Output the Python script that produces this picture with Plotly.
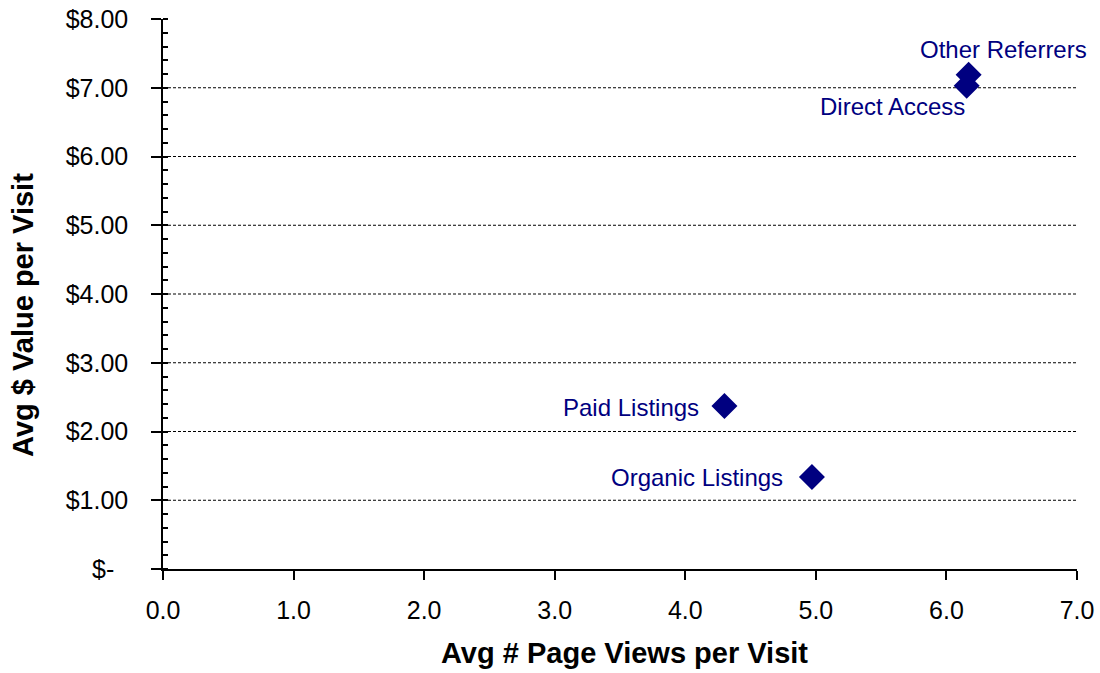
import plotly.graph_objects as go

# Traffic sources: average page views vs. average dollar value per visit
sources = ["Other Referrers", "Direct Access", "Paid Listings", "Organic Listings"]
page_views = [6.17, 6.155, 4.30, 4.97]
value_per_visit = [7.19, 7.03, 2.37, 1.34]

# Label placement for each source (anchor, x offset px, y offset px)
label_pos = {
    "Other Referrers": ("center", 35, 25),
    "Direct Access": ("right", 0, -21),
    "Paid Listings": ("right", -23, -1),
    "Organic Listings": ("right", -27, -1),
}

y_tick_vals = [0, 1, 2, 3, 4, 5, 6, 7, 8]
y_tick_text = ["$-\u2007", "$1.00", "$2.00", "$3.00", "$4.00", "$5.00", "$6.00", "$7.00", "$8.00"]
x_tick_vals = [0, 1, 2, 3, 4, 5, 6, 7]
x_tick_text = ["0.0", "1.0", "2.0", "3.0", "4.0", "5.0", "6.0", "7.0"]
grid_levels = [1, 2, 3, 4, 5, 6, 7]

NAVY = "#000080"
FONT = "Liberation Sans, Arial, sans-serif"

fig = go.Figure()
fig.add_trace(go.Scatter(
    x=page_views, y=value_per_visit, mode="markers",
    marker=dict(symbol="diamond", size=20, color=NAVY, line=dict(width=0)),
    text=sources, hoverinfo="text", showlegend=False,
))

# dashed horizontal gridlines
for g in grid_levels:
    fig.add_shape(type="line", xref="paper", yref="y", x0=0, x1=1, y0=g, y1=g,
                  line=dict(color="black", width=1, dash="3px,2px"), layer="below")

for name, xv, yv in zip(sources, page_views, value_per_visit):
    anchor, dx, dy = label_pos[name]
    fig.add_annotation(x=xv, y=yv, text=name, showarrow=False,
                       xanchor=anchor, yanchor="middle", xshift=dx, yshift=dy,
                       font=dict(family=FONT, size=24, color=NAVY))

# axis titles
fig.add_annotation(xref="paper", yref="paper", x=0.5, y=0, yshift=-84, xshift=4,
                   text="<b>Avg # Page Views per Visit</b>", showarrow=False,
                   xanchor="center", yanchor="middle",
                   font=dict(family=FONT, size=29, color="black"))
fig.add_annotation(xref="paper", yref="paper", x=0, y=0.462, xshift=-140,
                   text="<b>Avg $ Value per Visit</b>", showarrow=False, textangle=-90,
                   xanchor="center", yanchor="middle",
                   font=dict(family=FONT, size=29, color="black"))

fig.update_layout(
    width=1100, height=673,
    margin=dict(l=163, r=23, t=19, b=104),
    paper_bgcolor="white", plot_bgcolor="white",
    font=dict(family=FONT, color="black"),
    xaxis=dict(range=[0, 7], tickvals=x_tick_vals, ticktext=x_tick_text,
               showgrid=False, zeroline=False, showline=True, linecolor="black",
               linewidth=1.5, ticks="outside", ticklen=9, tickwidth=1.5,
               tickcolor="black", tickfont=dict(size=25, family=FONT),
               ticklabelstandoff=9, automargin=False),
    yaxis=dict(range=[0, 8], tickvals=y_tick_vals, ticktext=y_tick_text,
               showgrid=False, zeroline=False, showline=True, linecolor="black",
               linewidth=1.5, ticks="outside", ticklen=10, tickwidth=1.5,
               tickcolor="black", tickfont=dict(size=25, family=FONT),
               ticklabelstandoff=18, automargin=False,
               minor=dict(ticks="inside", ticklen=5, tickwidth=1.5, tickcolor="black",
                          dtick=0.2, tick0=0, showgrid=False)),
)

fig.write_html("out.html")
